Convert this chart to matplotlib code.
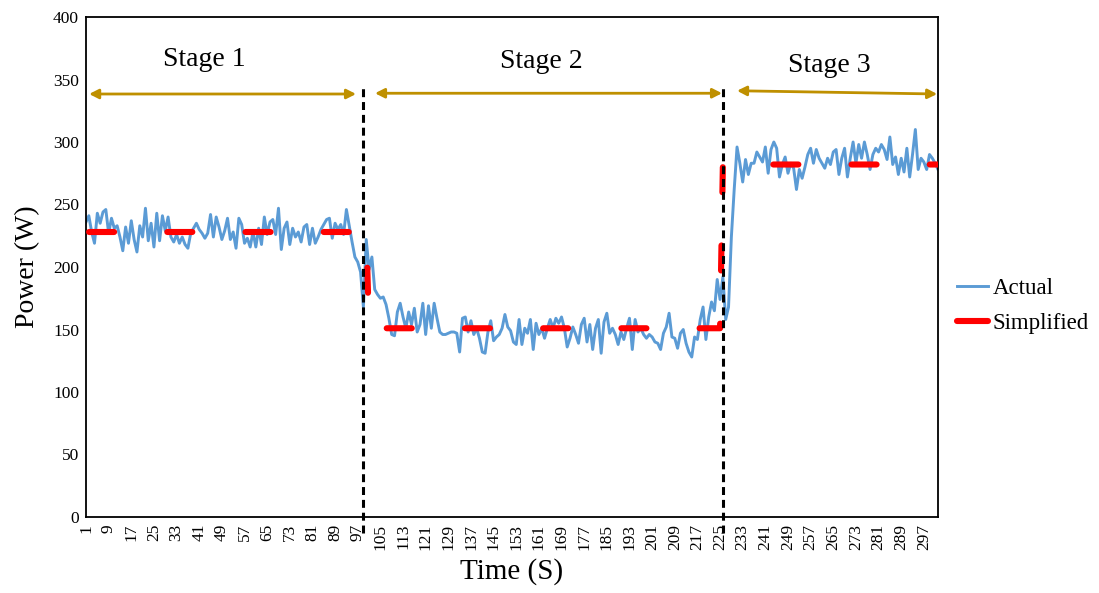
import matplotlib
matplotlib.use("Agg")
import matplotlib.pyplot as plt
from matplotlib.lines import Line2D
import numpy as np

plt.rcParams['font.family'] = ['Liberation Serif', 'DejaVu Serif']

# ---------------- data ----------------
stage1_a = [236, 241, 228, 219, 243, 235, 244, 246, 227, 239, 231, 233, 224, 213, 232,
            219, 237, 222, 212, 233, 224, 247, 221, 235, 216, 243, 221, 241, 229, 240]
stage1_b = [224, 220, 226, 219, 224, 218, 215, 227, 231, 235, 230, 227, 223, 227, 242,
            224, 240, 232, 222, 229]
stage1_c = [239, 222, 228, 215, 239, 234, 219, 223, 216, 228, 216, 231, 218, 240, 226,
            236, 238, 226, 247, 214, 231, 236, 218, 231, 224, 228, 220, 232, 234, 218,
            231, 219, 224, 230, 234, 238, 239, 223, 235, 230, 234, 226, 246]
trans_12 = [233, 220, 208, 204, 196, 168, 222, 198, 208, 182, 178, 175, 176, 170]
stage2_a = [159, 146, 145, 164, 171, 160, 151, 164, 154, 167, 148, 154, 171, 146, 169,
            151, 171, 159, 148, 146, 146, 147, 148, 148, 147, 132, 159, 160, 148, 157,
            146, 151, 143, 132, 131, 148, 157, 141, 144, 146, 151, 162, 152, 149, 140, 138]
stage2_b = [158, 138, 151, 147, 158, 134, 155, 146, 151, 143, 151, 158, 151, 159, 155,
            160, 151, 136, 143, 152, 146, 139, 154, 159, 140, 154, 134, 151, 158, 131,
            156, 163, 147, 151, 146, 138, 148, 142, 151, 159, 134, 158, 148, 151, 146, 143]
trans_23 = [146, 144, 140, 139, 134, 147, 152, 163, 144, 143, 135, 147, 150, 139, 132,
            128, 144, 142, 158, 168, 142, 160, 172, 165, 190, 174, 192, 158, 168, 224,
            262, 296]
stage3_a = [283, 268, 286, 274, 283, 283, 292, 288, 284, 296, 275, 294, 300, 295, 272,
            282, 288, 275, 283, 279, 262, 278]
stage3_b = [271, 280, 290, 295, 283, 294, 287, 283, 279, 287, 282, 292, 294, 274, 287,
            295, 272, 287, 300, 283, 298, 287, 300, 290, 278, 290, 295, 292, 298, 294,
            286, 304, 282, 288, 274, 287, 276, 295, 272, 290, 310, 278, 287, 284, 278,
            290, 287, 283, 278]

actual = (stage1_a + stage1_b + stage1_c + trans_12 + stage2_a + stage2_b
          + trans_23 + stage3_a + stage3_b)
time_s = list(range(1, len(actual) + 1))

# simplified: constant level per stage (level, last time index of the stage)
simple_levels = [228, 151, 282]
simple_ends = [100, 225, len(actual)]
simplified = []
start = 1
for lvl, end in zip(simple_levels, simple_ends):
    simplified += [lvl] * (end - start + 1)
    start = end + 1

stage_names = ["Stage 1", "Stage 2", "Stage 3"]
stage_boundaries = [98.8, 226]
y_ticks = list(range(0, 401, 50))
x_ticks = list(range(1, len(actual) + 1, 8))

# ---------------- figure ----------------
fig = plt.figure(figsize=(10.99, 5.93), dpi=100)
ax = fig.add_axes([86 / 1099, 1 - 517 / 593, 852 / 1099, 500 / 593])

blue = '#5B9BD5'
red = '#FF0000'
gold = '#BF9000'

ax.plot(time_s, actual, color=blue, lw=2.1, solid_joinstyle='round', zorder=2)
ax.plot(time_s, simplified, color=red, lw=4.4,
        linestyle=(12.3, (4.1, 8.7)), dash_capstyle='round', zorder=3)

for xb in stage_boundaries:
    ax.plot([xb, xb], [-13, 343], color='black', lw=2.2,
            linestyle=(0, (2.6, 1.6)), clip_on=False, zorder=4)

ax.set_xlim(1, len(actual))
ax.set_ylim(0, 400)
ax.set_yticks(y_ticks)
ax.set_yticklabels([str(v) for v in y_ticks], fontsize=12.5)
ax.set_xticks(x_ticks)
ax.set_xticklabels([str(v) for v in x_ticks], rotation=90, fontsize=12.5)
ax.tick_params(axis='both', length=0, pad=5)
for sp in ax.spines.values():
    sp.set_color('black')
    sp.set_linewidth(1.3)

ax.set_xlabel("Time (S)", fontsize=21, labelpad=6)
ax.set_ylabel("Power (W)", fontsize=20, labelpad=9)

# stage arrows & labels
arrow_spans = [((2.1, 338.4), (96.4, 338.4)),
               ((103.1, 339.0), (225.7, 339.0)),
               ((231.0, 341.0), (301.7, 338.4))]
label_pos = [(42.7, 365.6), (162.0, 364.0), (263.5, 361.6)]
for (p0, p1), name, lp in zip(arrow_spans, stage_names, label_pos):
    ax.annotate("", xy=p1, xytext=p0,
                arrowprops=dict(arrowstyle='<|-|>,head_length=0.55,head_width=0.28',
                                color=gold, lw=2, shrinkA=0, shrinkB=0))
    ax.text(lp[0], lp[1], name, fontsize=20, ha='center', va='center')

handles = [Line2D([], [], color=blue, lw=2.1),
           Line2D([], [], color=red, lw=4.4, solid_capstyle='round')]
fig.legend(handles, ["Actual", "Simplified"], loc='center left',
           bbox_to_anchor=(957 / 1099, 1 - 306 / 593), frameon=False,
           borderpad=0, borderaxespad=0,
           fontsize=16.5, handlelength=1.35, handletextpad=0.22, labelspacing=0.58)

fig.savefig("out.png", dpi=100)
